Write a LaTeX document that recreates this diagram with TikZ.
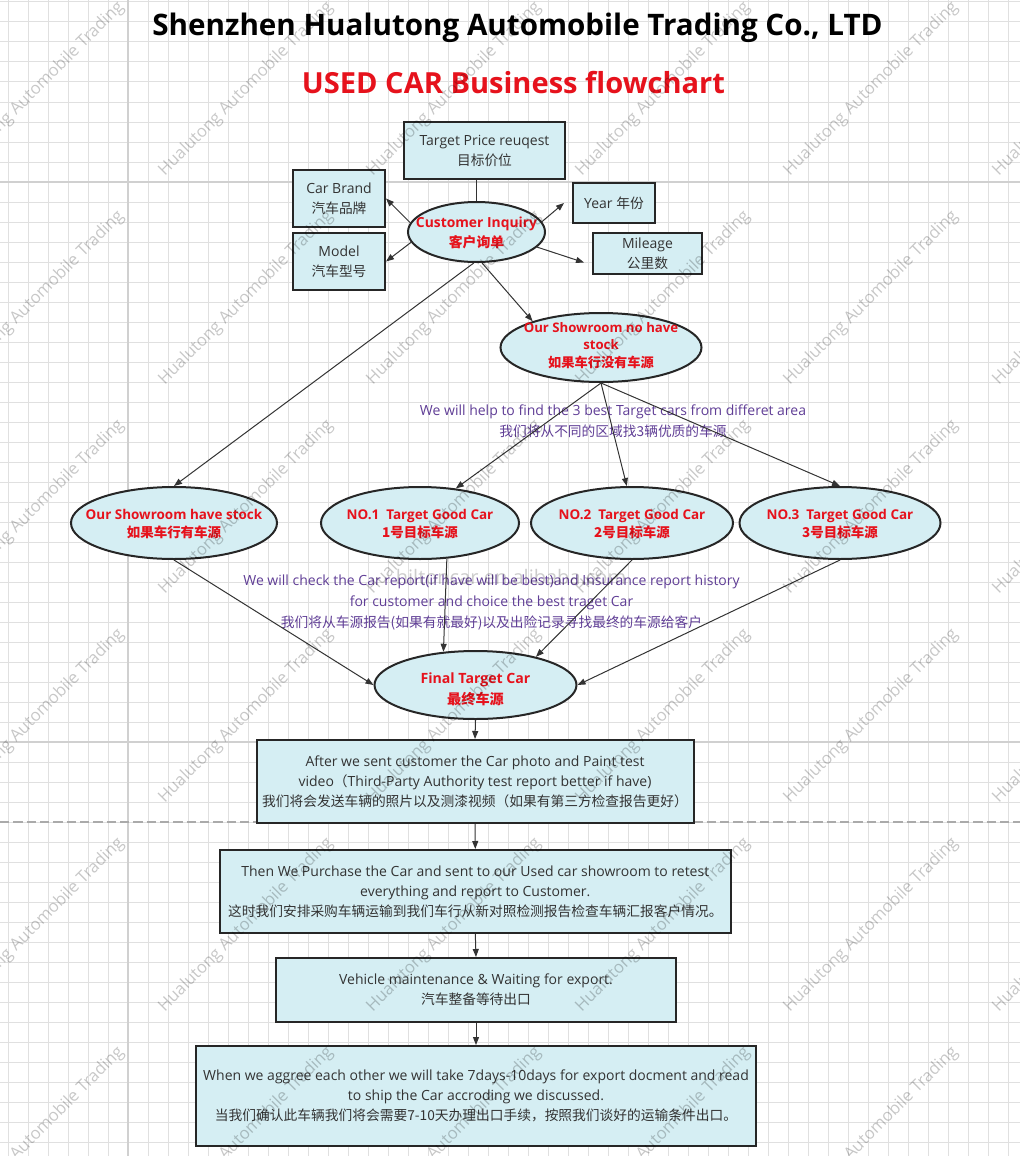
\documentclass[tikz,border=0pt]{standalone}
\usepackage{fontspec}
\setmainfont{Open Sans}
\newfontfamily\cjk{Noto Sans CJK SC}
\usetikzlibrary{arrows.meta,shapes.geometric,calc}
\definecolor{boxfill}{RGB}{213,238,243}
\definecolor{edgec}{RGB}{38,38,38}
\definecolor{redtxt}{RGB}{230,18,28}
\definecolor{purp}{RGB}{96,62,150}
\definecolor{txtc}{RGB}{51,51,51}
\definecolor{gridc}{RGB}{224,224,224}
\definecolor{gridm}{RGB}{208,208,208}
\definecolor{pagebr}{RGB}{170,170,170}
\newcommand{\zh}[1]{{\cjk\fontsize{10.3}{15}\selectfont #1}}
\newcommand{\zhb}[1]{{\cjk #1}}
\newcommand{\px}[1]{#1*0.75pt}
\begin{document}
\begin{tikzpicture}[x=0.75pt,y=-0.75pt,
  box/.style={draw=edgec, line width=1.5pt, fill=boxfill, rectangle, inner sep=0pt, align=center, text=txtc, font=\fontsize{10.5}{15}\selectfont},
  oval/.style={draw=edgec, line width=1.5pt, fill=boxfill, ellipse, inner sep=0pt},
  ovtext/.style={align=center, text=redtxt, inner sep=0pt, font=\bfseries\fontsize{10.4}{15}\selectfont},
  ovtextsm/.style={ovtext, font=\bfseries\fontsize{10.1}{13.5}\selectfont},
  arr/.style={draw=txtc, line width=0.75pt, -{Triangle[length=6pt,width=4.5pt]}},
  plain/.style={draw=txtc, line width=0.75pt},
  note/.style={align=center, text=purp, inner sep=0pt, font=\fontsize{10.5}{15.5}\selectfont},
  wm/.style={rotate=45, text=black, opacity=0.22, inner sep=0pt, font=\fontsize{12.5}{14}\selectfont}
]
\useasboundingbox (0,0) rectangle (1020,1156);
\fill[white] (0,0) rectangle (1020,1156);
% grid
\foreach \gx in {8,28,...,1008} \draw[gridc, line width=0.75pt] (\gx,0) -- (\gx,1156);
\foreach \gy in {2,22,...,1142} \draw[gridc, line width=0.75pt] (0,\gy) -- (1020,\gy);
\draw[gridm, line width=1pt] (128,0) -- (128,1156);
\foreach \gy in {182,742} \draw[gridm, line width=1pt] (0,\gy) -- (1020,\gy);
\draw[pagebr, line width=1.5pt, dash pattern=on 7pt off 3pt] (0,822) -- (1020,822);

% titles
\node[font=\bfseries\fontsize{22.2}{26}\selectfont, text=black] (title) at (517.5,28) {Shenzhen Hualutong Automobile Trading Co., LTD};
\node[font=\bfseries\fontsize{21.8}{26}\selectfont, text=redtxt] (subtitle) at (513.5,83) {USED CAR Business flowchart};

% top cluster
\node[box, minimum width=\px{161}, minimum height=\px{57}] (tp) at (484.5,150.5) {Target Price reuqest\\\zh{目标价位}};
\node[box, minimum width=\px{92}, minimum height=\px{57}] (brand) at (339,198.5) {Car Brand\\\zh{汽车品牌}};
\node[box, minimum width=\px{92}, minimum height=\px{57}] (model) at (339,261.5) {Model\\\zh{汽车型号}};
\node[box, minimum width=\px{82}, minimum height=\px{40}] (year) at (614,203) {Year \zh{年份}};
\node[box, minimum width=\px{109}, minimum height=\px{41}] (mile) at (647.5,253.5) {Mileage\\\zh{公里数}};
\node[oval, minimum width=\px{137}, minimum height=\px{60}] (ci) at (476.5,232) {};
\node[ovtext] (ciL) at (476.5,233.3) {Customer Inquiry\\\zhb{客户询单}};

\node[oval, minimum width=\px{201}, minimum height=\px{69}] (ns) at (601,347.5) {};
\node[ovtext, font=\bfseries\fontsize{9.9}{13}\selectfont] (nsL) at (601,345.5) {Our Showroom no have\\stock\\\zhb{如果车行没有车源}};

\node[note] (n1) at (613,421.5) {We will help to find the 3 best Target cars from differet area\\\zh{我们将从不同的区域找3辆优质的车源}};

% row of candidates
\node[oval, minimum width=\px{206}, minimum height=\px{72}] (hs) at (174,523) {};
\node[ovtextsm] (hsL) at (174,524.2) {Our Showroom have stock\\\zhb{如果车行有车源}};
\node[oval, minimum width=\px{198}, minimum height=\px{72}] (no1) at (420,523) {};
\node[ovtextsm] (no1L) at (420,524.2) {NO.1\ \ Target Good Car\\\zhb{1号目标车源}};
\node[oval, minimum width=\px{202}, minimum height=\px{72}] (no2) at (632,523) {};
\node[ovtextsm] (no2L) at (632,524.2) {NO.2\ \ Target Good Car\\\zhb{2号目标车源}};
\node[oval, minimum width=\px{201}, minimum height=\px{72}] (no3) at (840,523) {};
\node[ovtextsm] (no3L) at (840,524.2) {NO.3\ \ Target Good Car\\\zhb{3号目标车源}};

\node[note, font=\fontsize{10.5}{15.75}\selectfont] (n2) at (491.5,602) {We will check the Car report(if have will be best)and Insurance report history\\for customer and choice the best traget Car\\\zh{我们将从车源报告(如果有就最好)以及出险记录寻找最终的车源给客户}};

\node[oval, minimum width=\px{202}, minimum height=\px{68}] (fin) at (475.5,685) {};
\node[ovtext, font=\bfseries\fontsize{10.6}{15.5}\selectfont] (finL) at (475.5,689) {Final Target Car\\\zhb{最终车源}};

% process boxes
\node[box, minimum width=\px{437}, minimum height=\px{83}] (b1) at (475,781.5) {After we sent customer the Car photo and Paint test\\video\zh{（}Third-Party Authority test report better if have)\\\zh{我们将会发送车辆的照片以及测漆视频（如果有第三方检查报告更好）}};
\node[box, minimum width=\px{511}, minimum height=\px{83}] (b2) at (475.3,891.5) {Then We Purchase the Car and sent to our Used car showroom to retest\\everything and report to Customer.\\\zh{这时我们安排采购车辆运输到我们车行从新对照检测报告检查车辆汇报客户情况。}};
\node[box, minimum width=\px{400}, minimum height=\px{64}] (b3) at (476,990) {Vehicle maintenance \& Waiting for export.\\\zh{汽车整备等待出口}};
\node[box, minimum width=\px{560}, minimum height=\px{100}] (b4) at (476,1096) {When we aggree each other we will take 7days-10days for export docment and read\\to ship the Car accroding we discussed.\\\zh{当我们确认此车辆我们将会需要7-10天办理出口手续，按照我们谈好的运输条件出口。}};

% connectors
\draw[plain] (tp.south -| ci.north) -- (ci.north);
\draw[arr] (ci.172) -- (brand.east);
\draw[arr] (ci.189) -- (model.east);
\draw[arr] (ci.9) -- ($(year.west)+(-8,0)$);
\draw[arr] (ci.-14) -- ($(mile.west)+(-8,9)$);
\draw[arr] (ci.265) -- (hs.north);
\draw[arr] (ci.280) -- (ns.159);
\draw[arr] (ns.south) -- (no1.44);
\draw[arr] (ns.south) -- (no2.98);
\draw[arr] (ns.south) -- (no3.north);
\draw[arr] (hs.south) -- (fin.west);
\draw[arr] (no1.-53) -- (fin.134);
\draw[arr] (no2.south) -- (fin.25);
\draw[arr] (no3.south) -- (fin.east);
\draw[arr] (fin.south) -- (b1.north);
\draw[arr] (b1.south) -- (b2.north);
\draw[arr] (b2.south) -- (b3.north);
\draw[arr] (b3.south) -- (b4.north);

% watermarks
\node[text=black, opacity=0.2, font=\fontsize{15}{18}\selectfont] (wmsite) at (511,577) {hiltoncar.en.alibaba.com};
\foreach \cx in {37,246,454,663,871,1080} {
  \foreach \cy in {89,298,507,716,925,1134} {
    \node[wm] (wm-\cx-\cy) at (\cx,\cy) {Hualutong Automobile Trading};
  }
}
\end{tikzpicture}
\end{document}
